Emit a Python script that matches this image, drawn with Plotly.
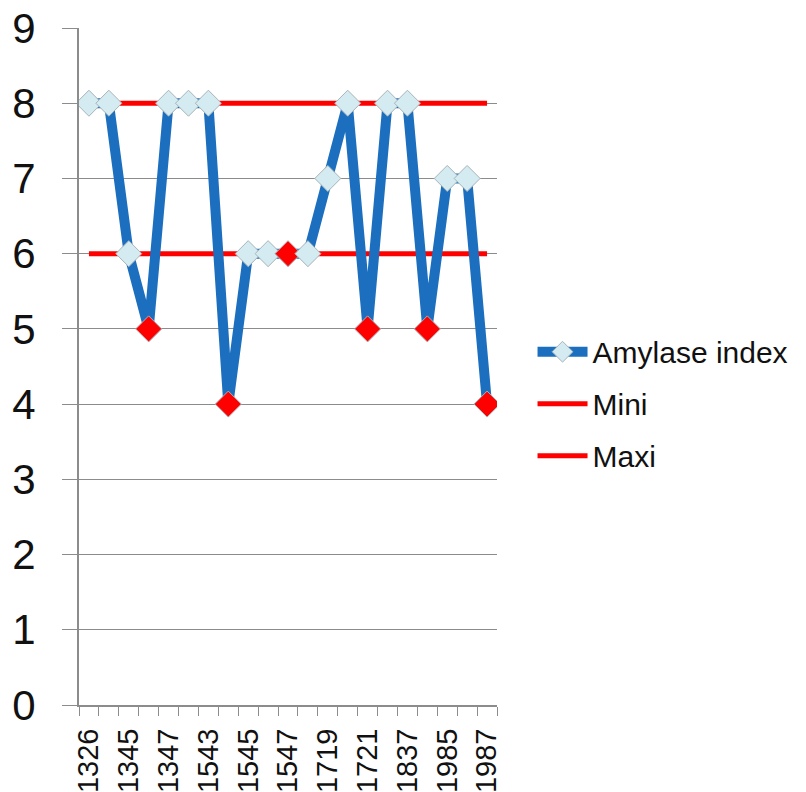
import plotly.graph_objects as go

# Sample codes along the x axis (every other one is labelled)
samples = ["1326", "1344", "1345", "1346", "1347", "1348", "1543", "1544",
           "1545", "1546", "1547", "1718", "1719", "1720", "1721", "1722",
           "1837", "1838", "1985", "1986", "1987"]
amylase = [8, 8, 6, 5, 8, 8, 8, 4, 6, 6, 6, 6, 7, 8, 5, 8, 8, 5, 7, 7, 4]
flagged = [False, False, False, True, False, False, False, True, False, False,
           True, False, False, False, True, False, False, True, False, False, True]
mini_value = 6
maxi_value = 8
y_ticks = list(range(0, 10))

marker_colors = ["#ff0000" if f else "#d3ebf1" for f in flagged]
tick_text = [s if i % 2 == 0 else "" for i, s in enumerate(samples)]

fig = go.Figure()
fig.add_trace(go.Scatter(
    x=samples, y=[mini_value] * len(samples), name="Mini", mode="lines",
    line=dict(color="#ff0000", width=5), legendgroup="b", legendrank=2,
))
fig.add_trace(go.Scatter(
    x=samples, y=[maxi_value] * len(samples), name="Maxi", mode="lines",
    line=dict(color="#ff0000", width=5), legendgroup="c", legendrank=3,
))
# drawn last so the diamonds sit above the threshold lines
fig.add_trace(go.Scatter(
    x=samples, y=amylase, name="Amylase index", mode="lines+markers",
    line=dict(color="#1c6fbe", width=10),
    marker=dict(symbol="diamond", size=20, color=marker_colors,
                line=dict(color="#a8b4b8", width=1)),
    legendgroup="a", legendrank=1,
))

fig.update_layout(
    width=806, height=792,
    margin=dict(l=79, r=309, t=28, b=87),
    paper_bgcolor="white", plot_bgcolor="white",
    font=dict(family="Liberation Sans, Arial, sans-serif", color="#111111"),
    legend=dict(x=1.085, y=0.445, yanchor="middle", xanchor="left",
                font=dict(size=30), tracegroupgap=10, traceorder="grouped",
                itemwidth=50),
    xaxis=dict(
        type="category", range=[-0.5, len(samples) - 0.5],
        tickmode="array", tickvals=samples, ticktext=tick_text,
        tickson="boundaries", ticks="outside", ticklen=9, tickcolor="#8c8c8c",
        tickangle=-90, tickfont=dict(size=29), ticklabelstandoff=10,
        showgrid=False, automargin=False,
        showline=True, linecolor="#8c8c8c", linewidth=2, zeroline=False,
    ),
    yaxis=dict(
        range=[0, 9], tickvals=y_ticks, ticks="outside", ticklen=15,
        tickcolor="#8c8c8c", tickfont=dict(size=42), ticklabelstandoff=18,
        showgrid=True, gridcolor="#8c8c8c", gridwidth=1, automargin=False,
        showline=True, linecolor="#8c8c8c", linewidth=2, zeroline=False,
    ),
)

fig.write_html("out.html")
